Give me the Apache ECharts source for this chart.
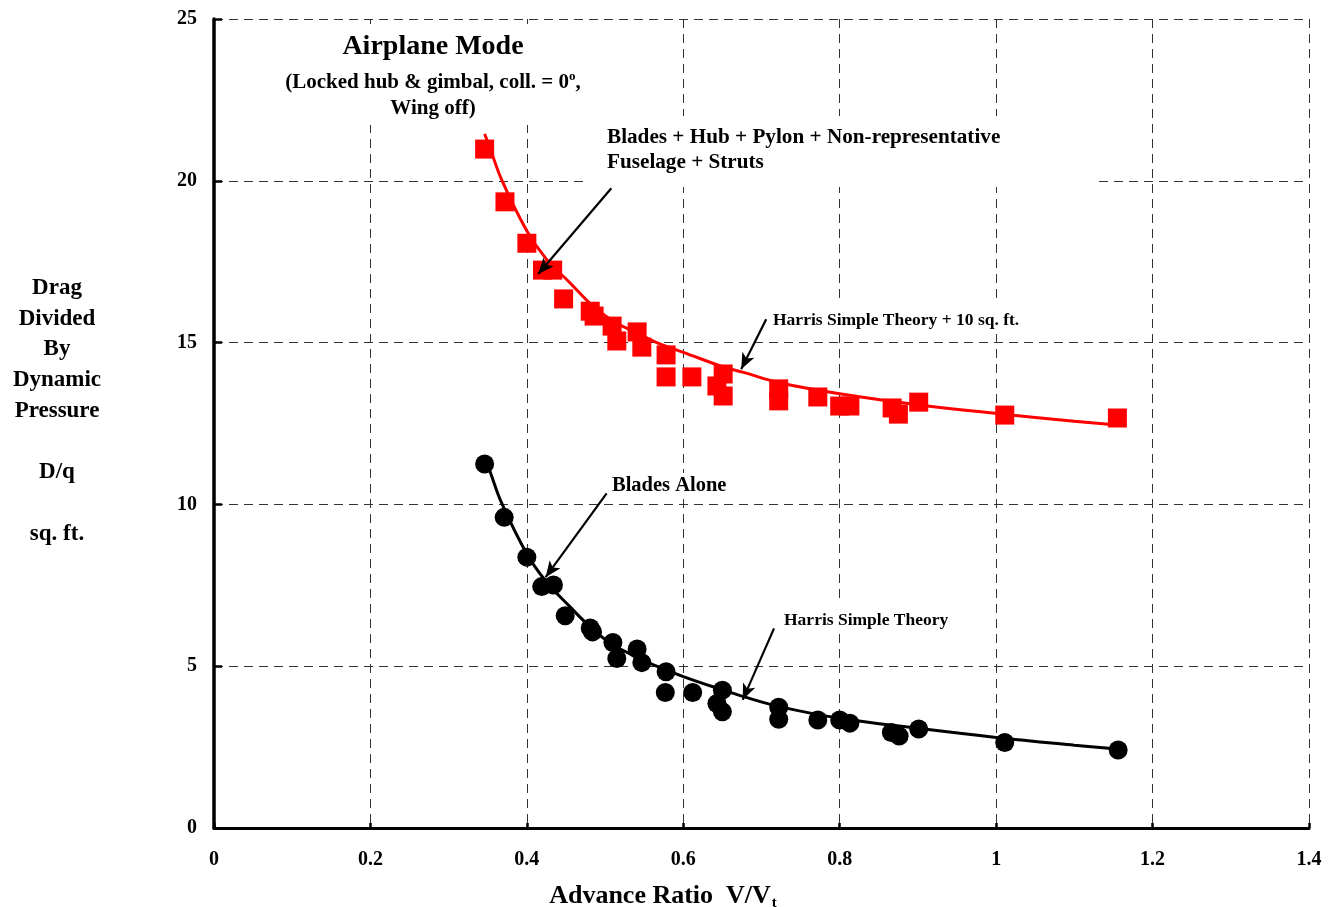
<!DOCTYPE html>
<html>
<head>
<meta charset="utf-8">
<script src="https://cdn.jsdelivr.net/npm/echarts@6/dist/echarts.min.js"></script>
<style>
html,body{margin:0;padding:0;background:#fff;}
#main{width:1338px;height:907px;}
</style>
</head>
<body>
<div id="main"></div>
<script>
// ---- Data ----
// Blades + Hub + Pylon + Non-representative Fuselage + Struts (red squares)
const fullX = [0.346,0.372,0.400,0.420,0.433,0.447,0.481,0.486,0.509,0.515,0.541,0.547,0.578,0.578,0.611,0.651,0.643,0.651,0.722,0.722,0.772,0.800,0.813,0.867,0.875,0.901,1.011,1.155];
const fullY = [20.98,19.35,18.07,17.24,17.24,16.35,15.97,15.82,15.51,15.05,15.33,14.86,14.62,13.94,13.94,14.03,13.66,13.35,13.57,13.20,13.32,13.04,13.04,12.98,12.79,13.16,12.76,12.67];
// Blades alone (black circles)
const bladesX = [0.346,0.371,0.400,0.419,0.434,0.449,0.481,0.484,0.510,0.515,0.541,0.547,0.578,0.577,0.612,0.650,0.643,0.650,0.722,0.722,0.772,0.800,0.813,0.866,0.876,0.901,1.011,1.156];
const bladesY = [11.25,9.60,8.37,7.46,7.51,6.56,6.18,6.06,5.73,5.24,5.53,5.11,4.83,4.19,4.19,4.26,3.85,3.59,3.73,3.36,3.34,3.34,3.24,2.95,2.84,3.06,2.64,2.41];
// Harris simple theory curves
const theoryX = [0.346,0.353,0.368,0.400,0.425,0.455,0.483,0.510,0.540,0.566,0.600,0.651,0.677,0.723,0.800,0.900,1.000,1.100,1.155];
const theoryY = [11.45,11.01,10.03,8.47,7.61,6.84,6.17,5.66,5.29,5.00,4.68,4.26,4.06,3.75,3.39,3.08,2.80,2.56,2.44];
const theoryPlusY = [21.45,21.00,20.02,18.45,17.58,16.85,16.16,15.67,15.30,15.00,14.70,14.25,14.08,13.76,13.42,13.08,12.81,12.57,12.45];
// Axis ticks
const xTicks = {min:0, max:1.4, step:0.2};
const yTicks = {min:0, max:25, step:5};

// Annotation arrows (data coordinates: start -> tip)
const arrowFull   = [[0.508,19.77],[0.4145,17.12]];
const arrowPlus   = [[0.706,15.72],[0.674,14.18]];
const arrowBlades = [[0.502,10.34],[0.424,7.75]];
const arrowTheory = [[0.716,6.17],[0.676,3.96]];

const FONT = "'Liberation Serif','Times New Roman',serif";
const zip = (a,b) => a.map((v,i)=>[v,b[i]]);

const chart = echarts.init(document.getElementById('main'), null, {renderer:'canvas'});

function arrowLine(pair){
  return [{coord:pair[0], symbol:'none'},{coord:pair[1], symbol:'arrow'}];
}

const option = {
  animation:false,
  backgroundColor:'#fff',
  grid:{left:214, right:29, top:19, bottom:79, containLabel:false, outerBoundsMode:'none'},
  xAxis:{
    type:'value', min:xTicks.min, max:xTicks.max, interval:xTicks.step,
    axisLine:{show:true, onZero:false, lineStyle:{color:'#000', width:3}},
    axisTick:{show:true, inside:true, length:5, lineStyle:{color:'#000', width:2.5}},
    axisLabel:{margin:22, fontFamily:FONT, fontWeight:'bold', fontSize:20, color:'#000'},
    splitLine:{show:true, lineStyle:{color:'#333', width:1, type:[9,6]}}
  },
  yAxis:{
    type:'value', min:yTicks.min, max:yTicks.max, interval:yTicks.step,
    axisLine:{show:true, onZero:false, lineStyle:{color:'#000', width:3.5}},
    axisTick:{show:true, inside:true, length:8, lineStyle:{color:'#000', width:2.5}},
    axisLabel:{margin:17, fontFamily:FONT, fontWeight:'bold', fontSize:20, color:'#000', padding:[3,0,0,0]},
    splitLine:{show:true, lineStyle:{color:'#333', width:1, type:[9,6]}}
  },
  graphic:[
    // white boxes behind annotation texts (hide the grid)
    {type:'rect', z:1, shape:{x:272, y:24, width:328, height:101}, style:{fill:'#fff'}},
    {type:'rect', z:1, shape:{x:586, y:116, width:507, height:71}, style:{fill:'#fff'}},
    {type:'rect', z:1, shape:{x:768, y:302, width:260, height:31}, style:{fill:'#fff'}},
    {type:'rect', z:1, shape:{x:779, y:602, width:175, height:31}, style:{fill:'#fff'}},
    {type:'rect', z:1, shape:{x:608, y:473, width:124, height:25}, style:{fill:'#fff'}},
    // title
    {type:'text', z:10, x:433, y:47, style:{text:'Airplane Mode', fill:'#000', font:`bold 28px ${FONT}`, align:'center', verticalAlign:'middle'}},
    {type:'text', z:10, x:433, y:96, style:{
      text:'{a|(Locked hub & gimbal, coll. = 0}{sup|o}{a|,}\n{a|Wing off)}',
      align:'center', verticalAlign:'middle',
      rich:{
        a:{fontFamily:FONT, fontWeight:'bold', fontSize:21, lineHeight:26, fill:'#000', color:'#000'},
        sup:{fontFamily:FONT, fontWeight:'bold', fontSize:13, lineHeight:26, fill:'#000', color:'#000', padding:[0,0,12,0]}
      }
    }},
    // annotations
    {type:'text', z:10, x:607, y:150, style:{text:'Blades + Hub + Pylon + Non-representative\nFuselage + Struts', fill:'#000', font:`bold 21.2px ${FONT}`, lineHeight:24.5, align:'left', verticalAlign:'middle'}},
    {type:'text', z:10, x:773, y:320, style:{text:'Harris Simple Theory + 10 sq. ft.', fill:'#000', font:`bold 17.5px ${FONT}`, align:'left', verticalAlign:'middle'}},
    {type:'text', z:10, x:784, y:620, style:{text:'Harris Simple Theory', fill:'#000', font:`bold 17.5px ${FONT}`, align:'left', verticalAlign:'middle'}},
    {type:'text', z:10, x:612, y:486, style:{text:'Blades Alone', fill:'#000', font:`bold 20.5px ${FONT}`, align:'left', verticalAlign:'middle'}},
    // y axis title
    {type:'text', z:10, x:57, y:411, style:{text:'Drag\nDivided\nBy\nDynamic\nPressure\n\nD/q\n\nsq. ft.', fill:'#000', font:`bold 23px ${FONT}`, lineHeight:30.75, align:'center', verticalAlign:'middle'}},
    // x axis title
    {type:'text', z:10, x:663, y:896, style:{
      text:'{n|Advance Ratio  V/V}{s|t}',
      align:'center', verticalAlign:'middle',
      rich:{
        n:{fontFamily:FONT, fontWeight:'bold', fontSize:26, lineHeight:30, fill:'#000', color:'#000', verticalAlign:'middle'},
        s:{fontFamily:FONT, fontWeight:'bold', fontSize:15, lineHeight:14, fill:'#000', color:'#000', verticalAlign:'bottom', padding:[0,0,0,1]}
      }
    }}
  ],
  series:[
    {
      name:'Full', type:'scatter', data:zip(fullX, fullY),
      symbol:'rect', symbolSize:19, itemStyle:{color:'#ff0000', opacity:1}, z:3
    },
    {
      name:'Theory+10', type:'line', data:zip(theoryX, theoryPlusY),
      smooth:0.4, showSymbol:false, symbol:'none',
      lineStyle:{color:'#ff0000', width:3}, z:4
    },
    {
      name:'Blades', type:'scatter', data:zip(bladesX, bladesY),
      symbol:'circle', symbolSize:19, itemStyle:{color:'#000', opacity:1}, z:3,
      markLine:{
        silent:true, animation:false,
        symbol:['none','arrow'], symbolSize:[10,16],
        label:{show:false},
        lineStyle:{color:'#000', width:2.2, type:'solid'},
        data:[arrowLine(arrowFull), arrowLine(arrowPlus), arrowLine(arrowBlades), arrowLine(arrowTheory)]
      }
    },
    {
      name:'Theory', type:'line', data:zip(theoryX, theoryY),
      smooth:0.4, showSymbol:false, symbol:'none',
      lineStyle:{color:'#000', width:3}, z:4
    }
  ]
};
chart.setOption(option);
</script>
</body>
</html>
